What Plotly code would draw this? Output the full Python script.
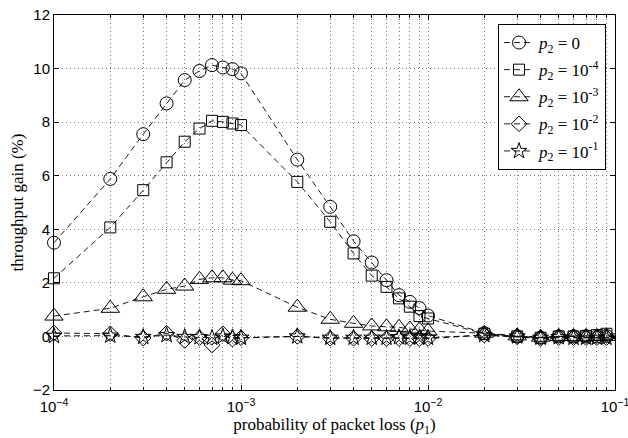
import plotly.graph_objects as go

# x values: probability of packet loss p1
p1 = [1e-4, 2e-4, 3e-4, 4e-4, 5e-4, 6e-4, 7e-4, 8e-4, 9e-4,
      1e-3, 2e-3, 3e-3, 4e-3, 5e-3, 6e-3, 7e-3, 8e-3, 9e-3,
      1e-2, 2e-2, 3e-2, 4e-2, 5e-2, 6e-2, 7e-2, 8e-2, 9e-2, 1e-1]

gain_p2_0 = [3.5, 5.88, 7.55, 8.7, 9.57, 9.91, 10.13, 10.04, 9.98,
             9.82, 6.6, 4.84, 3.55, 2.76, 2.1, 1.54, 1.29, 1.06,
             0.78, 0.12, 0.0, -0.05, 0.0, 0.0, 0.0, 0.0, 0.02, 0.02]
gain_p2_1e4 = [2.17, 4.07, 5.46, 6.5, 7.27, 7.76, 8.05, 8.01, 7.95,
               7.89, 5.77, 4.28, 3.1, 2.27, 1.85, 1.42, 1.11, 0.76,
               0.67, 0.1, 0.0, -0.05, 0.0, 0.0, 0.02, 0.05, 0.1, 0.1]
gain_p2_1e3 = [0.76, 1.05, 1.48, 1.76, 1.88, 2.13, 2.19, 2.19, 2.1,
               2.08, 1.09, 0.64, 0.49, 0.39, 0.36, 0.34, 0.28, 0.25,
               0.2, 0.12, 0.02, -0.03, 0.0, 0.0, 0.0, 0.0, 0.0, 0.0]
gain_p2_1e2 = [0.13, 0.1, -0.06, 0.12, -0.15, -0.05, -0.32, 0.1, -0.1,
               -0.05, 0.0, -0.07, -0.07, -0.08, -0.08, -0.08, -0.08, -0.08,
               -0.08, 0.05, -0.02, -0.08, -0.05, -0.05, -0.05, -0.05, -0.05, -0.05]
gain_p2_1e1 = [0.02, 0.03, -0.02, 0.05, -0.02, -0.03, -0.05, 0.0, -0.03,
               -0.05, 0.0, -0.05, -0.05, -0.05, -0.05, -0.03, -0.05, -0.03,
               -0.05, 0.05, 0.0, -0.05, -0.03, -0.05, -0.05, -0.05, -0.05, -0.05]

series_names = ["<i>p</i><sub>2</sub> = 0",
                "<i>p</i><sub>2</sub> = 10<sup>-4</sup>",
                "<i>p</i><sub>2</sub> = 10<sup>-3</sup>",
                "<i>p</i><sub>2</sub> = 10<sup>-2</sup>",
                "<i>p</i><sub>2</sub> = 10<sup>-1</sup>"]
series_values = [gain_p2_0, gain_p2_1e4, gain_p2_1e3, gain_p2_1e2, gain_p2_1e1]
symbols = ["circle-open", "square-open", "triangle-up-open", "diamond-open", "star-open"]
sizes = [13, 11, 16, 12, 12]

y_ticks = [-2, 0, 2, 4, 6, 8, 10, 12]
x_major = [1e-4, 1e-3, 1e-2, 1e-1]
x_major_text = ["10<sup>\u22124</sup>", "10<sup>\u22123</sup>", "10<sup>\u22122</sup>", "10<sup>\u22121</sup>"]
x_minor = [m * d for d in (1e-4, 1e-3, 1e-2) for m in range(2, 10)]

fig = go.Figure()
for i, (name, vals, sym, sz) in enumerate(zip(series_names, series_values, symbols, sizes)):
    fig.add_trace(go.Scatter(
        x=p1, y=vals, name=name, mode="lines+markers", legendgroup=f"g{i}",
        line=dict(color="black", width=0.9, dash="6px,4px"),
        marker=dict(symbol=sym, size=sz, color="black", line=dict(width=1, color="black")),
        cliponaxis=False,
    ))

gridc = "#777777"
gdash = "1px,3px"
fig.update_layout(
    width=628, height=438,
    margin=dict(l=54, r=13, t=15, b=48),
    paper_bgcolor="white", plot_bgcolor="white",
    font=dict(family="Liberation Sans", size=14, color="black"),
    legend=dict(
        x=0.984, y=0.976, xanchor="right", yanchor="top",
        bordercolor="black", borderwidth=1, bgcolor="white",
        font=dict(family="Liberation Serif", size=17, color="black"),
        tracegroupgap=2,
    ),
    xaxis=dict(
        type="log", range=[-4, -1], automargin=False,
        tickmode="array", tickvals=x_major, ticktext=x_major_text,
        ticklabeloverflow="allow", ticklabelstandoff=3,
        ticks="inside", ticklen=5, tickcolor="black",
        showline=True, linecolor="black", linewidth=1, mirror="allticks",
        showgrid=True, gridcolor=gridc, griddash=gdash, gridwidth=1,
        zeroline=False,
        minor=dict(tickmode="array", tickvals=x_minor, ticks="inside", ticklen=3,
                   tickcolor="black", showgrid=True, gridcolor=gridc, griddash=gdash, gridwidth=1),
        title=dict(text="probability of packet loss (<i>p</i><sub>1</sub>)",
                   font=dict(family="Liberation Serif", size=17), standoff=1),
        tickfont=dict(family="Liberation Sans", size=15),
    ),
    yaxis=dict(
        range=[-2, 12], tickvals=y_ticks, automargin=False,
        ticks="inside", ticklen=5, tickcolor="black",
        showline=True, linecolor="black", linewidth=1, mirror="allticks",
        showgrid=True, gridcolor=gridc, griddash=gdash, gridwidth=1,
        zeroline=False,
        title=dict(text="throughput gain (%)",
                   font=dict(family="Liberation Serif", size=17), standoff=4),
        tickfont=dict(family="Liberation Sans", size=15),
    ),
)

fig.write_html("out.html")
